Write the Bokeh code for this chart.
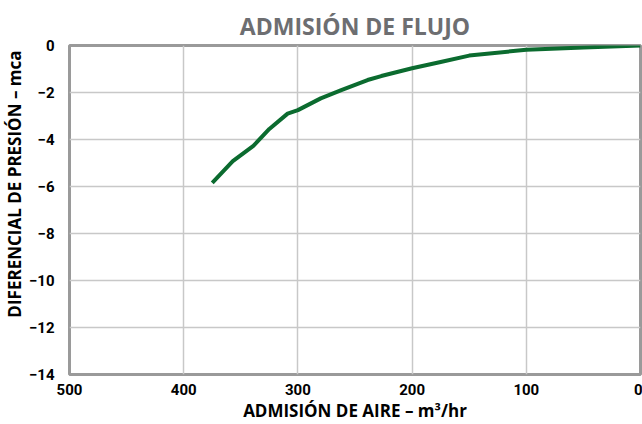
from bokeh.plotting import figure
from bokeh.models import Range1d, FixedTicker, Title
from bokeh.embed import file_html
from bokeh.resources import INLINE

airflow = [375, 357, 339, 325, 309, 300, 280, 262, 239, 227, 200, 175, 150, 100, 50, 0]
pressure = [-5.85, -4.92, -4.27, -3.55, -2.9, -2.75, -2.25, -1.9, -1.47, -1.3, -0.97, -0.7, -0.43, -0.18, -0.08, 0]
x_ticks = [500, 400, 300, 200, 100, 0]
y_ticks = [0, -2, -4, -6, -8, -10, -12, -14]

TICK_FONT = "Roboto"
LABEL_FONT = "Open Sans"

p = figure(width=642, height=424, output_backend="svg", toolbar_location=None,
           x_range=Range1d(500, 0), y_range=Range1d(-14, 0),
           min_border_left=67, min_border_right=2, min_border_top=45, min_border_bottom=46)

p.title.text = "ADMISIÓN DE FLUJO"
p.title.align = "center"
p.title.text_color = "#6d6e71"
p.title.text_font = LABEL_FONT
p.title.text_font_size = "23px"
p.title.text_font_style = "bold"
p.title.offset = 0
p.title.standoff = 8

p.line(airflow, pressure, line_color="#0b6b2f", line_width=4)

p.xaxis.ticker = FixedTicker(ticks=x_ticks)
p.yaxis.ticker = FixedTicker(ticks=y_ticks)
for ax in (p.xaxis[0], p.yaxis[0]):
    ax.axis_line_color = None
    ax.major_tick_line_color = None
    ax.minor_tick_line_color = None
    ax.major_label_text_font = TICK_FONT
    ax.major_label_text_font_style = "bold"
    ax.major_label_text_font_size = "15px"
    ax.major_label_text_color = "#000000"
p.xaxis.major_label_standoff = 3
p.yaxis.major_label_standoff = 9

p.xaxis.axis_label = "ADMISIÓN DE AIRE – m³/hr"
p.xaxis.axis_label_text_font = LABEL_FONT
p.xaxis.axis_label_text_font_style = "bold"
p.xaxis.axis_label_text_font_size = "17px"
p.xaxis.axis_label_text_color = "#000000"
p.xaxis.axis_label_standoff = 1

ytitle = Title(text="DIFERENCIAL DE PRESIÓN – mca", align="right", offset=5,
               text_font=LABEL_FONT, text_font_style="bold", text_font_size="17px",
               text_color="#000000", standoff=0)
p.add_layout(ytitle, "left")

p.xgrid.grid_line_color = "#c8c8c8"
p.ygrid.grid_line_color = "#c8c8c8"
p.xgrid.grid_line_width = 1.5
p.ygrid.grid_line_width = 1.5

p.outline_line_color = "#9a9a9a"
p.outline_line_width = 3
p.outline_line_alpha = 1

open("out.html", "w").write(file_html(p, INLINE))
